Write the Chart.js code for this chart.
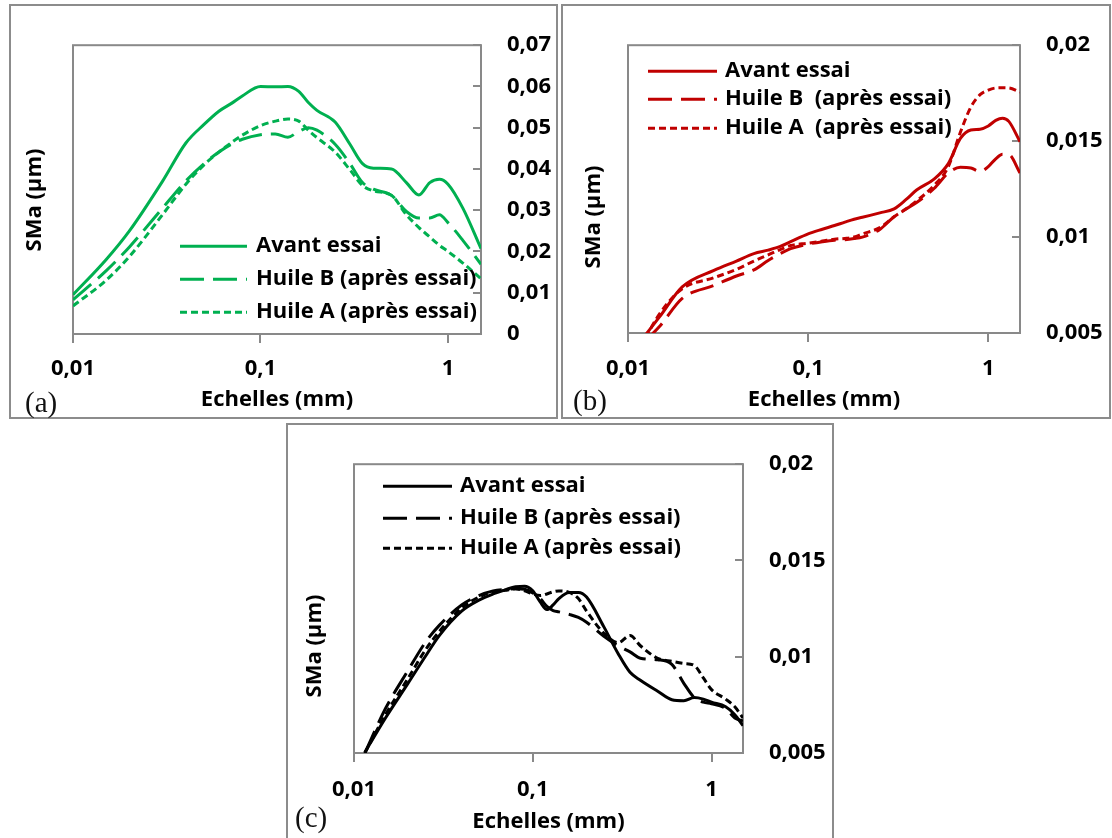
<!DOCTYPE html>
<html>
<head>
<meta charset="utf-8">
<script src="https://cdn.jsdelivr.net/npm/chart.js@4.4.1/dist/chart.umd.min.js"></script>
<style>
  body { margin: 0; background: #fff; width: 1112px; height: 838px; position: relative; overflow: hidden; }
  .frame { position: absolute; border: 2px solid #8c8c8c; box-sizing: border-box; }
  canvas { position: absolute; }
  .ytitle { position: absolute; font: bold 22px "Open Sans", sans-serif; color: #000; white-space: nowrap;
            transform: translate(-50%, -50%) rotate(-90deg); }
  .tag { position: absolute; font: 29px "Liberation Serif", serif; color: #111; transform: translateY(-50%); }
</style>
</head>
<body>
<div class="frame" style="left:9px;top:4px;width:549px;height:415px"></div>
<div class="frame" style="left:561px;top:4px;width:550px;height:415px"></div>
<div class="frame" style="left:286px;top:423px;width:548px;height:420px"></div>

<canvas id="chartA" width="545" height="411" style="left:11px;top:6px"></canvas>
<canvas id="chartB" width="546" height="411" style="left:563px;top:6px"></canvas>
<canvas id="chartC" width="544" height="413" style="left:288px;top:425px"></canvas>

<div class="ytitle" style="left:32px;top:200px">SMa (µm)</div>
<div class="ytitle" style="left:591px;top:217px">SMa (µm)</div>
<div class="ytitle" style="left:312px;top:646px">SMa (µm)</div>
<div class="tag" style="left:25px;top:402px">(a)</div>
<div class="tag" style="left:573px;top:400px">(b)</div>
<div class="tag" style="left:295px;top:817px">(c)</div>

<script>
// --- données (échelle en mm, SMa en µm) ---
const xTicks = [0.01, 0.1, 1];

// (a) vert
const echelles_a = [0.01, 0.015, 0.02, 0.03, 0.04, 0.05, 0.06, 0.07, 0.08, 0.1, 0.12, 0.14, 0.16, 0.18, 0.2, 0.25, 0.3, 0.35, 0.4, 0.5, 0.6, 0.7, 0.8, 0.9, 1.0, 1.2, 1.5];
const avantEssai_a = [0.0095, 0.0180, 0.0250, 0.0370, 0.0463, 0.0508, 0.0540, 0.0559, 0.0577, 0.0600, 0.0599, 0.0600, 0.0588, 0.0561, 0.0542, 0.0514, 0.0460, 0.0413, 0.0402, 0.0400, 0.0367, 0.0337, 0.0367, 0.0375, 0.0363, 0.0305, 0.0207];
const huileB_a = [0.0083, 0.0153, 0.0211, 0.0305, 0.0371, 0.0413, 0.0441, 0.0460, 0.0472, 0.0483, 0.0485, 0.0477, 0.0491, 0.0500, 0.0494, 0.0460, 0.0413, 0.0367, 0.0351, 0.0336, 0.0297, 0.0281, 0.0281, 0.0289, 0.0270, 0.0227, 0.0169];
const huileA_a = [0.0068, 0.0130, 0.0188, 0.0289, 0.0363, 0.0410, 0.0441, 0.0464, 0.0482, 0.0505, 0.0516, 0.0521, 0.0516, 0.0494, 0.0476, 0.0441, 0.0398, 0.0360, 0.0347, 0.0336, 0.0289, 0.0258, 0.0235, 0.0215, 0.0200, 0.0172, 0.0134];
const yTicks_a = [0, 0.01, 0.02, 0.03, 0.04, 0.05, 0.06, 0.07];

// (b) rouge
const echelles_b = [0.0125, 0.015, 0.02, 0.03, 0.04, 0.05, 0.06, 0.07, 0.08, 0.1, 0.12, 0.14, 0.16, 0.18, 0.2, 0.25, 0.3, 0.35, 0.4, 0.5, 0.6, 0.7, 0.8, 0.9, 1.0, 1.1, 1.2, 1.3, 1.5];
const avantEssai_b = [0.00490, 0.00585, 0.00740, 0.00826, 0.00875, 0.00914, 0.00932, 0.00951, 0.00976, 0.01017, 0.01041, 0.01060, 0.01078, 0.01093, 0.01103, 0.01126, 0.01147, 0.01196, 0.01245, 0.01302, 0.01383, 0.01514, 0.01558, 0.01562, 0.01579, 0.01608, 0.01619, 0.01603, 0.01497];
const huileB_b = [0.00460, 0.00535, 0.00680, 0.00748, 0.00797, 0.00829, 0.00878, 0.00914, 0.00940, 0.00963, 0.00976, 0.00984, 0.00986, 0.00992, 0.01000, 0.01040, 0.01106, 0.01147, 0.01180, 0.01253, 0.01334, 0.01364, 0.01360, 0.01342, 0.01367, 0.01408, 0.01432, 0.01430, 0.01334];
const huileA_b = [0.00475, 0.00601, 0.00731, 0.00788, 0.00832, 0.00875, 0.00907, 0.00935, 0.00956, 0.00968, 0.00979, 0.00989, 0.00993, 0.01000, 0.01016, 0.01049, 0.01106, 0.01147, 0.01188, 0.01269, 0.01367, 0.01546, 0.01677, 0.01742, 0.01766, 0.01777, 0.01778, 0.01777, 0.01755];
const yTicks_b = [0.005, 0.01, 0.015, 0.02];

// (c) noir
const echelles_c = [0.0115, 0.015, 0.02, 0.025, 0.03, 0.04, 0.05, 0.06, 0.07, 0.08, 0.09, 0.1, 0.11, 0.12, 0.13, 0.14, 0.16, 0.18, 0.2, 0.25, 0.3, 0.35, 0.4, 0.5, 0.6, 0.7, 0.8, 0.9, 1.0, 1.2, 1.35, 1.5];
const avantEssai_c = [0.00503, 0.00682, 0.00860, 0.01000, 0.01110, 0.01237, 0.01294, 0.01326, 0.01347, 0.01364, 0.01366, 0.01342, 0.01285, 0.01245, 0.01269, 0.01302, 0.01334, 0.01334, 0.01310, 0.01155, 0.01017, 0.00919, 0.00878, 0.00821, 0.00777, 0.00772, 0.00788, 0.00780, 0.00764, 0.00740, 0.00699, 0.00642];
const huileB_c = [0.00500, 0.00731, 0.00927, 0.01073, 0.01163, 0.01269, 0.01318, 0.01342, 0.01350, 0.01353, 0.01350, 0.01331, 0.01302, 0.01261, 0.01240, 0.01233, 0.01220, 0.01204, 0.01179, 0.01106, 0.01057, 0.01025, 0.00992, 0.00984, 0.00960, 0.00862, 0.00788, 0.00764, 0.00756, 0.00731, 0.00682, 0.00666];
const huileA_c = [0.00500, 0.00699, 0.00886, 0.01033, 0.01131, 0.01253, 0.01310, 0.01337, 0.01345, 0.01353, 0.01342, 0.01326, 0.01318, 0.01326, 0.01337, 0.01342, 0.01334, 0.01302, 0.01237, 0.01122, 0.01073, 0.01110, 0.01057, 0.00992, 0.00976, 0.00965, 0.00955, 0.00890, 0.00829, 0.00780, 0.00740, 0.00682];
const yTicks_c = [0.005, 0.01, 0.015, 0.02];

const GRAY = '#898989';
const tickFont = { family: 'Open Sans', weight: 'bold', size: 22, lineHeight: 1.2 };
const titleFont = { family: 'Open Sans', weight: 'bold', size: 22, lineHeight: 1.2 };
const fmt = v => String(Number(Number(v).toPrecision(3))).replace('.', ',');

// cadre gris + petits tirets intérieurs de l'axe de droite
const plotFrame = {
    id: 'plotFrame',
    beforeDatasetsDraw(chart) {
        const { ctx, chartArea: a, scales: { y } } = chart;
        ctx.save();
        ctx.strokeStyle = GRAY;
        ctx.lineWidth = 2;
        ctx.strokeRect(a.left, a.top, a.width, a.height);
        ctx.beginPath();
        y.ticks.forEach(t => {
            const py = Math.round(y.getPixelForValue(t.value));
            ctx.moveTo(a.right - 8, py);
            ctx.lineTo(a.right, py);
        });
        ctx.stroke();
        ctx.restore();
    }
};

// légende dans la zone du graphe
const insideLegend = {
    id: 'insideLegend',
    afterDatasetsDraw(chart, args, opts) {
        const { ctx, chartArea: a } = chart;
        ctx.save();
        ctx.font = 'bold 22px "Open Sans"';
        ctx.textBaseline = 'middle';
        chart.data.datasets.forEach((ds, i) => {
            const y = a.top + opts.rows[i];
            ctx.strokeStyle = ds.borderColor;
            ctx.lineWidth = ds.borderWidth;
            ctx.setLineDash(ds.borderDash || []);
            ctx.beginPath();
            ctx.moveTo(a.left + opts.x0, y);
            ctx.lineTo(a.left + opts.x1, y);
            ctx.stroke();
            ctx.setLineDash([]);
            ctx.fillStyle = '#000';
            ctx.fillText(ds.label, a.left + opts.tx, y);
        });
        ctx.restore();
    }
};

function serie(label, xs, ys, color, dash) {
    return {
        label,
        data: xs.map((x, i) => ({ x, y: ys[i] })),
        borderColor: color,
        borderWidth: 3,
        borderDash: dash,
        pointRadius: 0,
        cubicInterpolationMode: 'monotone',
        fill: false
    };
}

function panel(id, p) {
    new Chart(document.getElementById(id), {
        type: 'line',
        data: {
            datasets: [
                serie('Avant essai', p.xs, p.avant, p.color, []),
                serie(p.labels[0], p.xs, p.huileB, p.color, [24, 9]),
                serie(p.labels[1], p.xs, p.huileA, p.color, [7, 4])
            ]
        },
        options: {
            responsive: false,
            animation: false,
            layout: { padding: { left: p.padL, top: p.padT, right: 0, bottom: 0 } },
            plugins: {
                legend: { display: false },
                tooltip: { enabled: false },
                insideLegend: p.legend
            },
            scales: {
                x: {
                    type: 'logarithmic',
                    min: 0.01,
                    max: 1.5,
                    afterBuildTicks: s => { s.ticks = xTicks.map(v => ({ value: v })); },
                    afterFit: s => { s.height = p.xH; },
                    grid: { drawOnChartArea: false, drawTicks: true, tickLength: 9, color: GRAY, lineWidth: 2 },
                    border: { display: false },
                    ticks: { font: tickFont, color: '#000', padding: p.xPad, maxRotation: 0, autoSkip: false, callback: fmt },
                    title: { display: true, text: 'Echelles (mm)', font: titleFont, color: '#000', padding: { top: 0, bottom: p.tPad } }
                },
                y: {
                    position: 'right',
                    min: p.yTicks[0],
                    max: p.yTicks[p.yTicks.length - 1],
                    afterBuildTicks: s => { s.ticks = p.yTicks.map(v => ({ value: v })); },
                    afterFit: s => { s.width = p.yW; },
                    grid: { display: false, drawTicks: false },
                    border: { display: false },
                    ticks: { font: tickFont, color: '#000', padding: 26, callback: fmt }
                }
            }
        },
        plugins: [plotFrame, insideLegend]
    });
}

panel('chartA', {
    xs: echelles_a, avant: avantEssai_a, huileB: huileB_a, huileA: huileA_a, yTicks: yTicks_a,
    color: '#00b050', labels: ['Huile B (après essai)', 'Huile A (après essai)'],
    padL: 62, padT: 28, yW: 75, xH: 83, xPad: 13, tPad: 4,
    legend: { x0: 107, x1: 174, tx: 183, rows: [201, 234, 267] }
});
panel('chartB', {
    xs: echelles_b, avant: avantEssai_b, huileB: huileB_b, huileA: huileA_b, yTicks: yTicks_b,
    color: '#c00000', labels: ['Huile B  (après essai)', 'Huile A  (après essai)'],
    padL: 65, padT: 20, yW: 89, xH: 84, xPad: 14, tPad: 4,
    legend: { x0: 20, x1: 89, tx: 97, rows: [26, 54, 83] }
});
panel('chartC', {
    xs: echelles_c, avant: avantEssai_c, huileB: huileB_c, huileA: huileA_c, yTicks: yTicks_c,
    color: '#000000', labels: ['Huile B (après essai)', 'Huile A (après essai)'],
    padL: 66, padT: 21, yW: 89, xH: 85, xPad: 15, tPad: 3,
    legend: { x0: 29, x1: 98, tx: 106, rows: [22, 54, 84] }
});
</script>
</body>
</html>
